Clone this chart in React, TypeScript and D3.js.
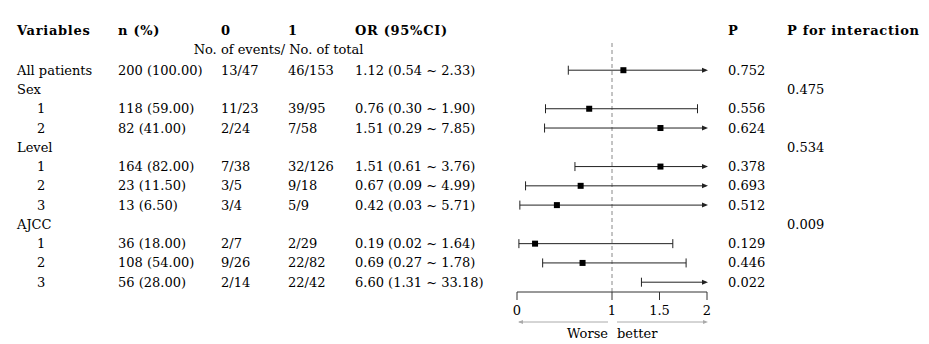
import React from "react";
import * as d3 from "d3";

const variables = ["All patients", "Sex", "1", "2", "Level", "1", "2", "3", "AJCC", "1", "2", "3"];
const isSub = [false, false, true, true, false, true, true, true, false, true, true, true];
const nPct = ["200 (100.00)", "", "118 (59.00)", "82 (41.00)", "", "164 (82.00)", "23 (11.50)", "13 (6.50)", "", "36 (18.00)", "108 (54.00)", "56 (28.00)"];
const events0 = ["13/47", "", "11/23", "2/24", "", "7/38", "3/5", "3/4", "", "2/7", "9/26", "2/14"];
const events1 = ["46/153", "", "39/95", "7/58", "", "32/126", "9/18", "5/9", "", "2/29", "22/82", "22/42"];
const orEst: (number | null)[] = [1.12, null, 0.76, 1.51, null, 1.51, 0.67, 0.42, null, 0.19, 0.69, 6.6];
const orLow: (number | null)[] = [0.54, null, 0.3, 0.29, null, 0.61, 0.09, 0.03, null, 0.02, 0.27, 1.31];
const orHigh: (number | null)[] = [2.33, null, 1.9, 7.85, null, 3.76, 4.99, 5.71, null, 1.64, 1.78, 33.18];
const pVal = ["0.752", "", "0.556", "0.624", "", "0.378", "0.693", "0.512", "", "0.129", "0.446", "0.022"];
const pInter = ["", "0.475", "", "", "0.534", "", "", "", "0.009", "", "", ""];
const headers = ["Variables", "n (%)", "0", "1", "OR (95%CI)", "P", "P for interaction"];
const subHeader = "No. of events/ No. of total";
const axisTicks = [0, 1, 1.5, 2];
const axisLeftLabel = "Worse";
const axisRightLabel = "better";

const colX = [17, 118, 221, 288, 355, 728, 787];

function T(props: { x: number; y: number; anchor?: string; bold?: boolean; children: React.ReactNode }) {
  return (
    <text
      x={props.x}
      y={props.y}
      dy="0.35em"
      textAnchor={props.anchor || "start"}
      fill="#000"
      style={{
        fontFamily: '"DejaVu Serif", monospace',
        fontSize: "13px",
        fontWeight: props.bold ? 700 : 400,
        letterSpacing: props.bold ? "0.7px" : "0px",
      }}
    >
      {props.children}
    </text>
  );
}

export default function App() {
  const x = d3.scaleLinear().domain([0, 2]).range([517, 707]);
  const y = d3.scaleLinear().domain([0, variables.length - 1]).range([70.2, 282.2]);
  const [xMin, xMax] = x.domain();
  const axisY = 292;
  const lineColor = "#222";

  const fmt = (v: number) => v.toFixed(2);

  return (
    <svg width={929} height={344} style={{ position: "absolute", left: 0, top: 0, background: "#fff" }}>
      <rect width={929} height={344} fill="#fff" />
      {headers.map((h, i) => (
        <T key={"h" + i} x={colX[i]} y={30} bold>
          {h}
        </T>
      ))}
      <T x={278.5} y={49} anchor="middle">
        {subHeader}
      </T>

      <line x1={x(1)} x2={x(1)} y1={43} y2={axisY} stroke="#888" strokeWidth={1} strokeDasharray="4,3" />

      {variables.map((v, i) => {
        const cy = y(i);
        const est = orEst[i];
        const lo = orLow[i];
        const hi = orHigh[i];
        return (
          <g key={"r" + i}>
            <T x={isSub[i] ? 37 : colX[0]} y={cy}>{v}</T>
            <T x={colX[1]} y={cy}>{nPct[i]}</T>
            <T x={colX[2]} y={cy}>{events0[i]}</T>
            <T x={colX[3]} y={cy}>{events1[i]}</T>
            {est !== null && lo !== null && hi !== null && (
              <T x={colX[4]} y={cy}>{`${fmt(est)} (${fmt(lo)} ~ ${fmt(hi)})`}</T>
            )}
            <T x={colX[5]} y={cy}>{pVal[i]}</T>
            <T x={colX[6]} y={cy}>{pInter[i]}</T>
            {est !== null && lo !== null && hi !== null && (() => {
              const x1 = x(Math.max(lo, xMin));
              const x2 = x(Math.min(hi, xMax));
              const rightArrow = hi > xMax;
              const leftArrow = lo < xMin;
              return (
                <g>
                  <line x1={x1} x2={rightArrow ? x2 - 1 : x2} y1={cy} y2={cy} stroke={lineColor} strokeWidth={1} />
                  {!leftArrow && <line x1={x1} x2={x1} y1={cy - 4.5} y2={cy + 4.5} stroke={lineColor} strokeWidth={1} />}
                  {!rightArrow && <line x1={x2} x2={x2} y1={cy - 4.5} y2={cy + 4.5} stroke={lineColor} strokeWidth={1} />}
                  {rightArrow && (
                    <path d={`M${x2 + 1},${cy} L${x2 - 5},${cy - 2.5} L${x2 - 5},${cy + 2.5} Z`} fill={lineColor} />
                  )}
                  {est >= xMin && est <= xMax && (
                    <rect x={x(est) - 3} y={cy - 3} width={6} height={6} fill="#000" />
                  )}
                </g>
              );
            })()}
          </g>
        );
      })}

      <line x1={x(xMin)} x2={x(xMax)} y1={axisY} y2={axisY} stroke="#333" strokeWidth={1} />
      {axisTicks.map((t) => (
        <g key={"t" + t}>
          <line x1={x(t)} x2={x(t)} y1={axisY} y2={axisY + 8} stroke="#333" strokeWidth={1} />
          <T x={x(t)} y={310} anchor="middle">{String(t)}</T>
        </g>
      ))}
      <line x1={x(0) + 2} x2={x(1) - 4} y1={322} y2={322} stroke="#aaa" strokeWidth={1} />
      <path d={`M${x(0) + 1},322 L${x(0) + 6},320 L${x(0) + 6},324 Z`} fill="#aaa" />
      <line x1={x(1) + 5} x2={x(2) - 2} y1={322} y2={322} stroke="#aaa" strokeWidth={1} />
      <path d={`M${x(2) + 1},322 L${x(2) - 4},320 L${x(2) - 4},324 Z`} fill="#aaa" />
      <T x={x(1) - 4} y={333} anchor="end">{axisLeftLabel}</T>
      <T x={x(1) + 5} y={333}>{axisRightLabel}</T>
    </svg>
  );
}
